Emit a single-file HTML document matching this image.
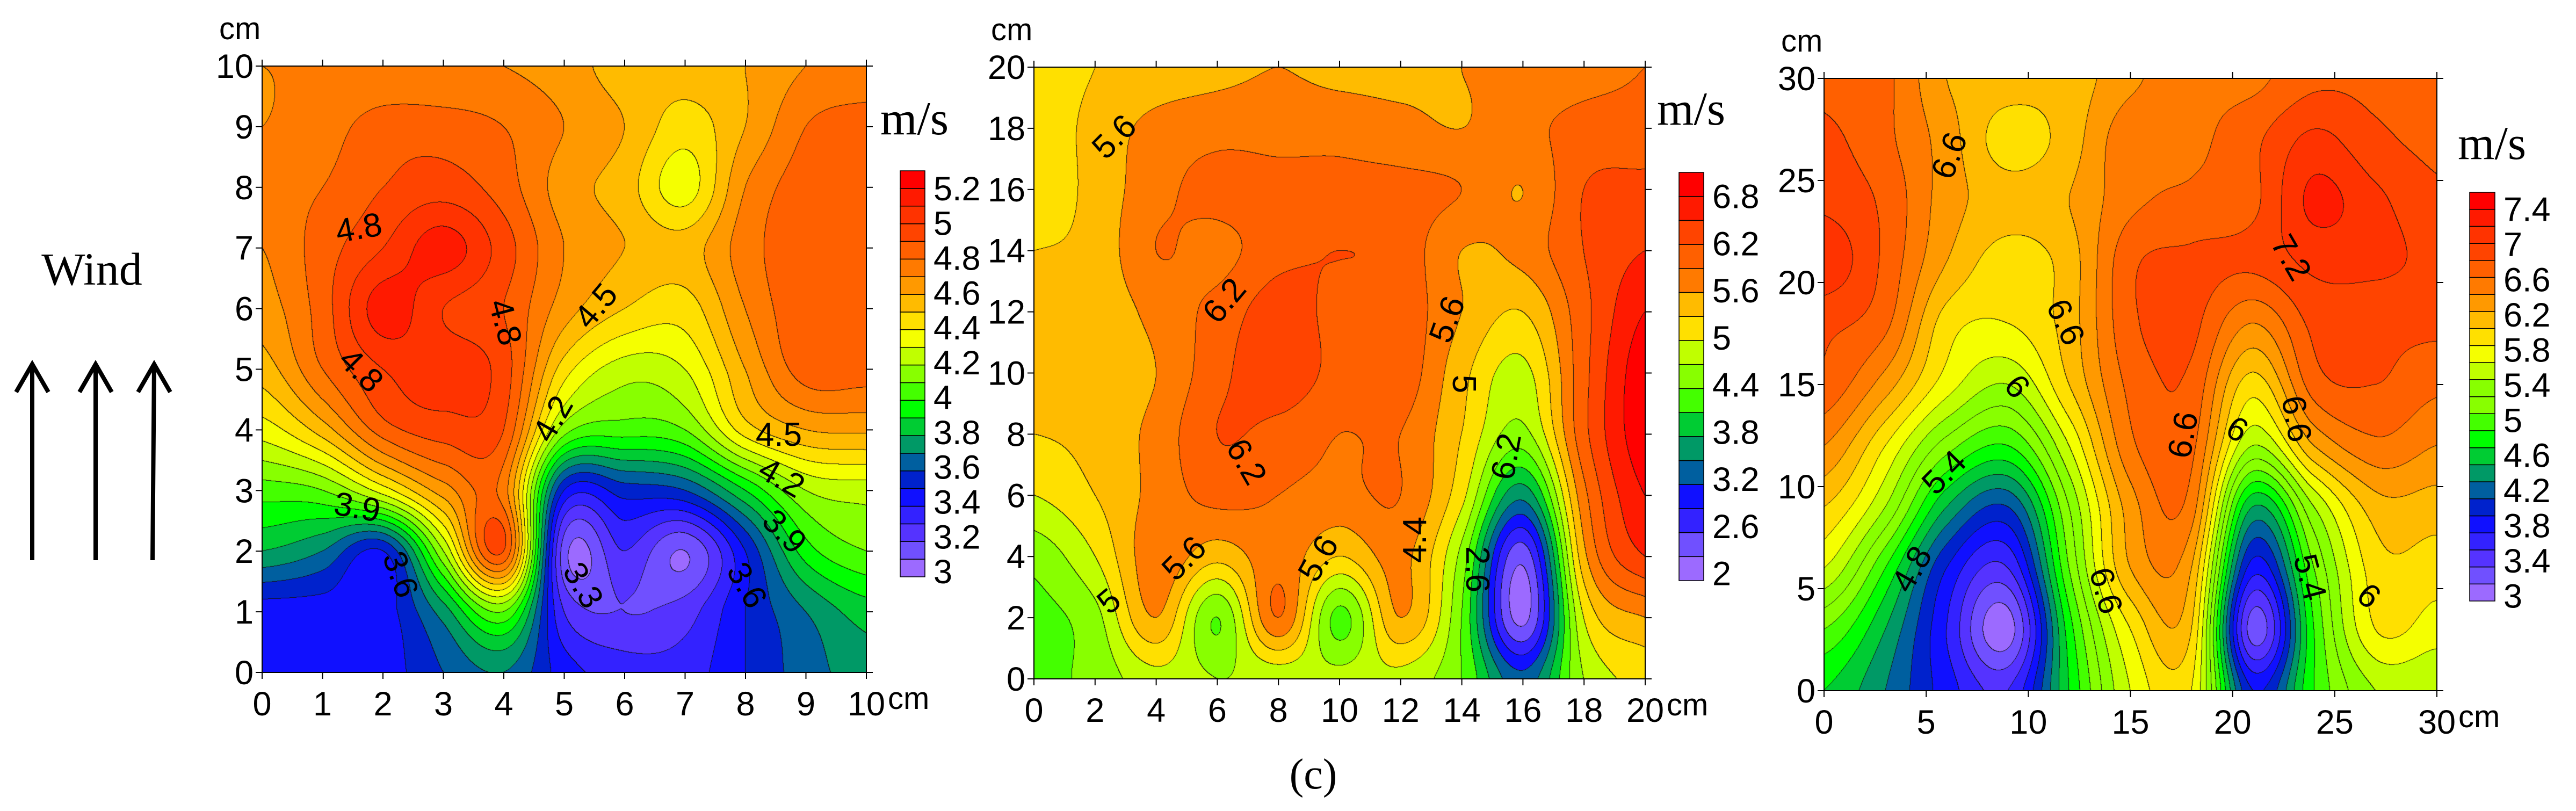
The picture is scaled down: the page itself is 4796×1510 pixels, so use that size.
<!DOCTYPE html>
<html><head><meta charset="utf-8">
<style>
html,body{margin:0;padding:0;background:#fff;}
#root{position:relative;width:4796px;height:1510px;overflow:hidden;background:#fff;}
canvas{position:absolute;}
svg{position:absolute;left:0;top:0;}
</style></head>
<body>
<div id="root">
<canvas id="c1"></canvas>
<canvas id="c2"></canvas>
<canvas id="c3"></canvas>
<svg id="ov" width="4796" height="1510">
  <text x="171" y="530" font-family="Liberation Serif, serif" font-size="86" text-anchor="middle">Wind</text>
  <g stroke="#000" stroke-width="8" fill="none">
    <path d="M60 1043 L60 678 M30 730 L60 678 L90 730"/>
    <path d="M178 1043 L178 678 M148 730 L178 678 L208 730"/>
    <path d="M284 1043 L287 678 M257 730 L287 678 L317 730"/>
  </g>
  <text x="2445" y="1468" font-family="Liberation Serif, serif" font-size="80" text-anchor="middle">(c)</text>
</svg>
</div>
<script>
// Panel 1 data (x 0..10 step 1, rows y=10 down to 0)
const p1Values = [
[4.7,4.7,4.7,4.7,4.7,4.65,4.55,4.55,4.6,4.7,4.72],
[4.7,4.75,4.85,4.85,4.8,4.7,4.6,4.45,4.6,4.8,4.85],
[4.75,4.8,4.9,4.95,4.85,4.65,4.55,4.35,4.7,4.85,4.85],
[4.7,4.85,5.0,5.15,4.95,4.7,4.6,4.55,4.75,4.88,4.88],
[4.65,4.85,5.15,5.0,4.9,4.65,4.5,4.45,4.7,4.88,4.88],
[4.55,4.8,5.0,5.05,4.95,4.45,4.25,4.3,4.6,4.85,4.85],
[4.35,4.55,4.85,4.95,4.9,4.15,4.05,4.1,4.45,4.6,4.62],
[4.05,4.1,4.35,4.65,4.75,3.5,3.55,3.6,3.9,4.2,4.25],
[3.8,3.7,3.5,4.2,4.9,3.15,3.3,3.1,3.5,3.95,4.1],
[3.45,3.45,3.45,3.75,4.1,3.3,3.2,3.25,3.5,3.7,3.85],
[3.45,3.45,3.45,3.6,3.7,3.45,3.35,3.35,3.5,3.65,3.75]];
const p1XTicks = [0,1,2,3,4,5,6,7,8,9,10];
const p1YTicks = [0,1,2,3,4,5,6,7,8,9,10];
const p1BarLabels = ["5.2","5","4.8","4.6","4.4","4.2","4","3.8","3.6","3.4","3.2","3"];
// Panel 2 data (x 0..20 step 2, rows y=20 down to 0)
const p2Values = [
[5.1,5.3,5.4,5.5,5.6,5.5,5.5,5.6,5.7,5.8,5.9],
[5.1,5.4,5.7,5.8,5.8,5.8,5.7,5.6,5.8,6.0,6.0],
[5.1,5.4,5.8,6.0,6.0,6.0,6.0,5.9,5.6,6.2,6.3],
[5.3,5.4,5.9,5.8,6.1,6.2,6.1,5.6,5.7,6.2,6.5],
[5.4,5.4,5.7,6.0,6.35,6.1,6.1,5.6,5.3,6.1,6.8],
[5.4,5.4,5.6,6.1,6.4,6.1,6.1,5.4,4.9,6.1,7.0],
[5.3,5.4,5.7,6.2,6.1,5.9,5.9,5.3,4.6,6.1,7.0],
[5.0,5.3,5.7,6.0,5.9,5.8,5.9,5.1,3.6,5.8,6.8],
[4.5,5.0,5.8,5.4,5.8,5.3,5.7,4.6,2.4,5.5,6.5],
[4.3,4.6,5.6,4.4,5.9,4.3,5.6,4.4,2.2,5.0,5.6],
[4.3,4.5,4.9,4.7,4.8,4.8,4.9,4.4,3.3,4.7,5.1]];
const p2XTicks = [0,2,4,6,8,10,12,14,16,18,20];
const p2YTicks = [0,2,4,6,8,10,12,14,16,18,20];
const p2BarLabels = ["6.8","6.2","5.6","5","4.4","3.8","3.2","2.6","2"];
// Panel 3 data (x 0..30 step 3, rows y=30 down to 0)
const p3Values = [
[6.95,6.85,6.4,6.3,6.3,6.55,6.75,6.75,6.95,6.95,6.95],
[7.05,6.85,6.5,6.1,6.3,6.75,6.75,6.95,7.25,7.05,6.95],
[7.15,6.95,6.5,6.3,6.4,6.75,6.85,6.95,7.45,7.25,7.05],
[7.35,6.95,6.4,6.1,6.3,6.95,7.05,7.05,7.25,7.25,7.15],
[7.05,6.85,6.1,6.0,6.3,6.95,7.05,6.6,7.05,7.05,7.05],
[6.95,6.5,5.9,5.6,6.2,6.85,6.95,6.1,6.9,7.0,6.85],
[6.6,6.0,5.3,5.0,5.8,6.75,6.85,5.6,6.4,6.75,6.6],
[6.2,5.6,4.6,4.2,5.4,6.5,6.7,4.6,5.6,6.3,6.3],
[5.8,5.0,4.0,3.6,5.2,6.4,6.4,3.9,5.2,6.1,6.1],
[5.2,4.6,3.8,3.1,4.9,6.0,6.2,3.3,5.0,6.0,5.9],
[4.8,4.4,3.9,3.6,4.8,5.8,6.0,4.0,5.0,5.6,5.6]];
const p3XTicks = [0,5,10,15,20,25,30];
const p3YTicks = [0,5,10,15,20,25,30];
const p3BarLabels = ["7.4","7","6.6","6.2","5.8","5.4","5","4.6","4.2","3.8","3.4","3"];

const palette = ["#9c6aff","#7050ff","#5533ff","#3322ff","#1010ff","#0022cc","#005f9f","#009966","#00cc33","#00ff00","#44ff00","#88ff00","#c0ff00","#f5ff00","#ffe000","#ffbb00","#ff9900","#ff7a00","#ff6000","#ff4400","#ff3300","#ff1a00","#ff0000"];

const panels = [
 {id:'c1',vals:p1Values,xt:p1XTicks,yt:p1YTicks,max:10,L:488,R:1613,T:123,B:1252,vmin:3.0,step:0.1,n:23,
  bar:{x:1676,w:46,T:318,B:1074},bl:p1BarLabels,ms:[1639,250],key:'p1'},
 {id:'c2',vals:p2Values,xt:p2XTicks,yt:p2YTicks,max:20,L:1925,R:3063,T:125,B:1264,vmin:2.0,step:0.3,n:17,
  bar:{x:3126,w:46,T:321,B:1081},bl:p2BarLabels,ms:[3085,232],key:'p2'},
 {id:'c3',vals:p3Values,xt:p3XTicks,yt:p3YTicks,max:30,L:3396,R:4537,T:146,B:1286,vmin:3.0,step:0.2,n:24,
  bar:{x:4598,w:47,T:358,B:1119},bl:p3BarLabels,ms:[4576,296],key:'p3'}
];

function hexRGB(h){return [parseInt(h.substr(1,2),16),parseInt(h.substr(3,2),16),parseInt(h.substr(5,2),16)];}
function bandColor(i,n){return palette[Math.round(i*(palette.length-1)/(n-1))];}
function cr(p0,p1,p2,p3,t){return p1+0.5*t*(p2-p0+t*(2*p0-5*p1+4*p2-p3+t*(3*(p1-p2)+p3-p0)));}
function sample(g,gx,gy){
  const nr=g.length,nc=g[0].length;
  const ix=Math.floor(gx),iy=Math.floor(gy);const tx=gx-ix,ty=gy-iy;
  const row=[];
  for(let j=-1;j<=2;j++){
    const r=Math.min(nr-1,Math.max(0,iy+j));const a=[];
    for(let i=-1;i<=2;i++){a.push(g[r][Math.min(nc-1,Math.max(0,ix+i))]);}
    row.push(cr(a[0],a[1],a[2],a[3],tx));
  }
  return cr(row[0],row[1],row[2],row[3],ty);
}

const svg=document.getElementById('ov');
const NS='http://www.w3.org/2000/svg';
function mk(tag,attrs,txt){const e=document.createElementNS(NS,tag);for(const k in attrs)e.setAttribute(k,attrs[k]);if(txt!==undefined)e.textContent=txt;svg.appendChild(e);return e;}

panels.forEach(p=>{
  const W=p.R-p.L,H=p.B-p.T;
  const cv=document.getElementById(p.id);
  cv.width=W;cv.height=H;cv.style.left=p.L+'px';cv.style.top=p.T+'px';
  const ctx=cv.getContext('2d');const img=ctx.createImageData(W,H);
  const nr=p.vals.length,nc=p.vals[0].length;
  const cols=[];for(let i=0;i<p.n;i++)cols.push(hexRGB(bandColor(i,p.n)));
  const band=new Int16Array(W*H);
  for(let y=0;y<H;y++){const gy=y/(H-1)*(nr-1);
    for(let x=0;x<W;x++){const gx=x/(W-1)*(nc-1);
      const v=sample(p.vals,gx,gy);
      let b=Math.floor((v-p.vmin)/p.step);b=Math.max(0,Math.min(p.n-1,b));band[y*W+x]=b;}}
  for(let y=0;y<H;y++)for(let x=0;x<W;x++){
    const k=y*W+x;const b=band[k];let c=cols[b];
    if((x<W-1&&band[k+1]!==b)||(y<H-1&&band[k+W]!==b))c=[20,20,20];
    img.data[k*4]=c[0];img.data[k*4+1]=c[1];img.data[k*4+2]=c[2];img.data[k*4+3]=255;}
  ctx.putImageData(img,0,0);

  const sx=v=>p.L+v/p.max*W, sy=v=>p.B-v/p.max*H;
  let e=mk('rect',{x:p.L,y:p.T,width:W,height:H,fill:'none',stroke:'#000','stroke-width':2});
  
  
  p.xt.forEach(v=>{
    e=mk('line',{x1:sx(v),x2:sx(v),y1:p.B,y2:p.B+12,stroke:'#000','stroke-width':2});
    
    
    mk('line',{x1:sx(v),x2:sx(v),y1:p.T,y2:p.T-12,stroke:'#000','stroke-width':2});
    e=mk('text',{x:sx(v),y:p.B+80,'font-family':'Liberation Sans, sans-serif','font-size':63,'text-anchor':'middle'},String(v));
    
    
  });
  p.yt.forEach(v=>{
    e=mk('line',{x1:p.L-12,x2:p.L,y1:sy(v),y2:sy(v),stroke:'#000','stroke-width':2});
    
    
    mk('line',{x1:p.R,x2:p.R+12,y1:sy(v),y2:sy(v),stroke:'#000','stroke-width':2});
    e=mk('text',{x:p.L-16,y:sy(v)+22,'font-family':'Liberation Sans, sans-serif','font-size':63,'text-anchor':'end'},String(v));
    
    
  });
  e=mk('text',{x:p.L-80,y:p.T-50,'font-family':'Liberation Sans, sans-serif','font-size':58},'cm');
  
  
  e=mk('text',{x:p.R+40,y:p.B+68,'font-family':'Liberation Sans, sans-serif','font-size':58},'cm');
  
  
  const bh=(p.bar.B-p.bar.T)/p.n;
  for(let i=0;i<p.n;i++){
    e=mk('rect',{x:p.bar.x,y:p.bar.B-(i+1)*bh,width:p.bar.w,height:bh,fill:bandColor(i,p.n),stroke:'#000','stroke-width':1.5});
    
    
  }
  const ls=(p.bar.B-p.bar.T-bh*1.3)/(p.bl.length-1);
  p.bl.forEach((t,i)=>{
    e=mk('text',{x:p.bar.x+p.bar.w+16,y:p.bar.T+bh*1.0+ls*i+22,'font-family':'Liberation Sans, sans-serif','font-size':63},t);
    
    
  });
  e=mk('text',{x:p.ms[0],y:p.ms[1],'font-family':'Liberation Serif, serif','font-size':88},'m/s');
  
  
});

const clabels=[
 [668,445,-10,'4.8'],[940,620,75,'4.8'],[672,710,45,'4.8'],[1110,590,-50,'4.5'],[1450,830,0,'4.5'],[1455,910,30,'4.2'],[1460,1010,45,'3.9'],
 [1030,800,-60,'4.2'],[665,965,10,'3.9'],[745,1090,70,'3.6'],[1085,1110,60,'3.3'],[1390,1110,60,'3.6'],
 [2075,275,-45,'5.6'],[2280,580,-50,'6.2'],[2320,880,60,'6.2'],[2205,1060,-45,'5.6'],[2455,1060,-60,'5.6'],[2695,615,-70,'5.6'],
 [2725,735,90,'5'],[2635,1025,-90,'4.4'],[2805,870,-80,'6.2'],[2065,1140,-40,'5'],[2750,1080,90,'2.6'],
 [3630,310,-70,'6.6'],[3845,620,65,'6.6'],[3755,740,50,'6'],[3620,900,-45,'5.4'],[3560,1080,-60,'4.8'],[4265,500,60,'7.2'],
 [4065,830,-80,'6.6'],[4165,820,30,'6'],[4275,800,80,'6.6'],[4410,1130,40,'6'],[3920,1120,75,'6.6'],[4300,1095,75,'5.4']];
clabels.forEach(c=>{
  const t=document.createElementNS(NS,'text');
  t.setAttribute('x',c[0]);t.setAttribute('y',c[1]);
  t.setAttribute('font-family','Liberation Sans, sans-serif');t.setAttribute('font-size','62');
  t.setAttribute('text-anchor','middle');
  t.setAttribute('transform','rotate('+c[2]+' '+c[0]+' '+(c[1]-20)+')');
  t.textContent=c[3];
  
  
  svg.appendChild(t);
});
</script>
</body></html>
